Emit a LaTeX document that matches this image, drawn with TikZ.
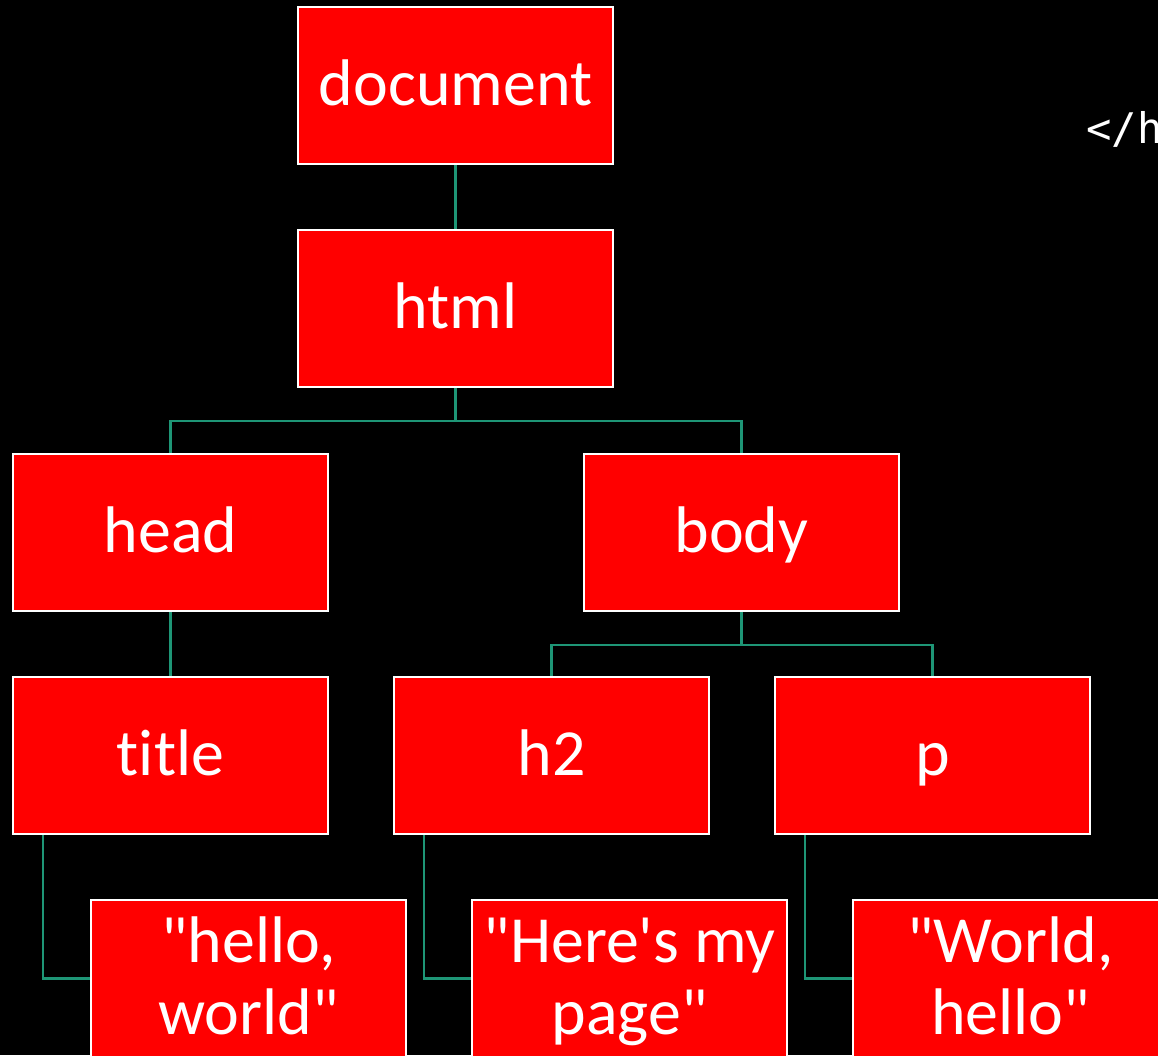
\documentclass[tikz,border=0pt]{standalone}
\usepackage{fontspec}
\setmainfont{Carlito}[Ligatures={CommonOff,TeXOff}]
\newfontfamily\codefont{DejaVu Sans Mono}
\definecolor{treeline}{RGB}{30,150,118}
\definecolor{boxred}{RGB}{255,0,0}

\tikzset{
    domnode/.style={draw=white, line width=1.2pt, fill=boxred, text=white,
        minimum width=6.3cm, minimum height=3.14cm, inner sep=0pt,
        align=center, font=\fontsize{37.5}{41}\selectfont,
        text height=28pt, text depth=5.2pt},
    leafnode/.style={domnode, text height=69.2pt, text depth=5.2pt},
    link/.style={draw=treeline, line width=1.4pt}
}

\begin{document}
\begin{tikzpicture}[x=0.02cm, y=-0.02cm]
    \useasboundingbox (0, 0) rectangle (1158, 1055);
    \fill[black] (0, 0) rectangle (1158, 1055);

    \node (closetag) [anchor=base west, inner sep=0pt, text=white, font=\codefont\fontsize{24}{28}\selectfont] at (1086, 143) {</h};

    \node[domnode] (document) at (455.5, 85.5) {document};
    \node[domnode] (html) at (455.5, 308.5) {html};

    \node[domnode] (head) at (170.5, 532.5) {head};
    \node[domnode] (body) at (741.5, 532.5) {body};

    \node[domnode] (title) at (170.5, 755.5) {title};
    \node[domnode] (h2) at (551.5, 755.5) {h2};
    \node[domnode] (p) at (932.5, 755.5) {p};

    \node[leafnode] (titletext) at (248.5, 978.5) {"hello,\\world"};
    \node[leafnode] (h2text) at (629.5, 978.5) {"Here's my\\page"};
    \node[leafnode] (ptext) at (1010.5, 978.5) {"World,\\hello"};

    \draw[link] (document) -- (html);

    \draw[link] (html.south) -- ++(0, 33) -| (head.north);
    \draw[link] (html.south) ++(0, 33) -| (body.north);

    \draw[link] (head) -- (title);

    \draw[link] (body.south) -- ++(0, 33) -| (h2.north);
    \draw[link] (body.south) ++(0, 33) -| (p.north);

    \draw[link] ([xshift=0.62cm]title.south west) |- (titletext.west);
    \draw[link] ([xshift=0.62cm]h2.south west) |- (h2text.west);
    \draw[link] ([xshift=0.62cm]p.south west) |- (ptext.west);
  \end{tikzpicture}
\end{document}
